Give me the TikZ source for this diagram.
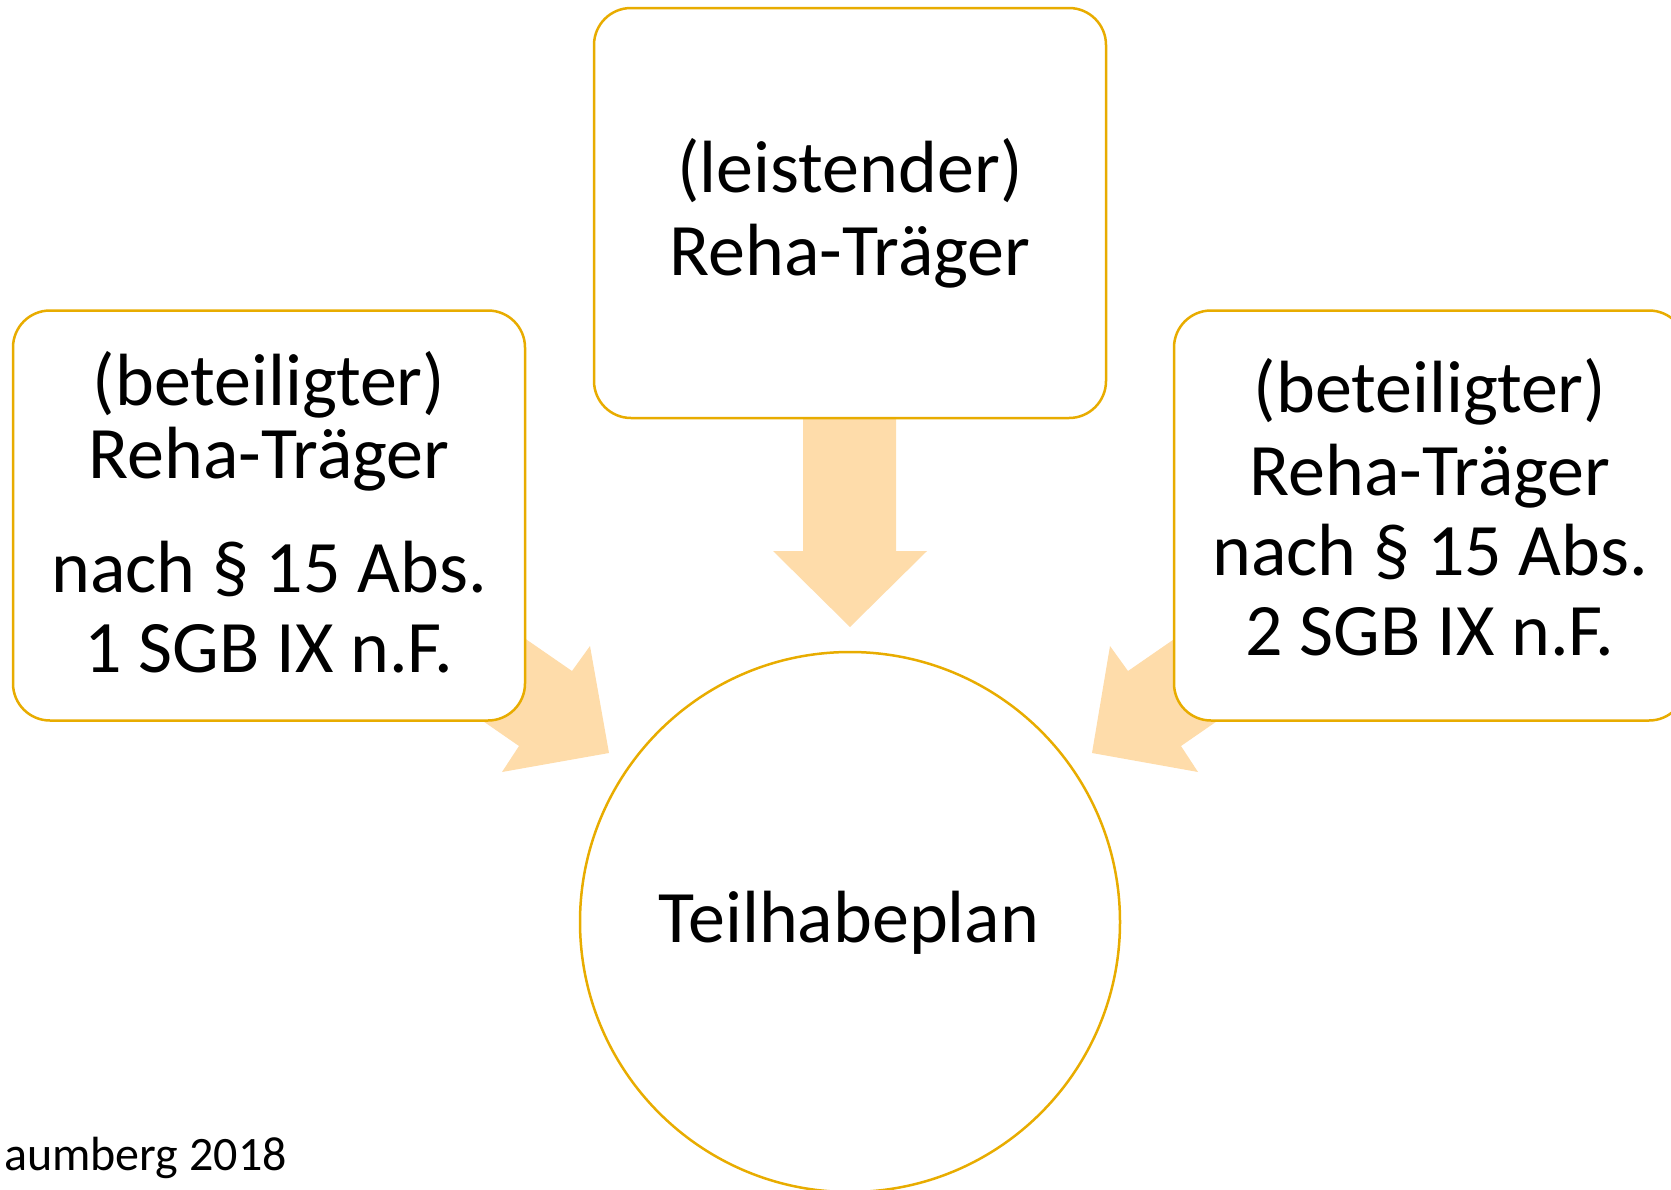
\documentclass[tikz,border=0pt]{standalone}
\usepackage{fontspec}
\setmainfont{Carlito}
\definecolor{boxgold}{RGB}{232,172,0}
\definecolor{arrowfill}{RGB}{254,220,170}
\begin{document}
\begin{tikzpicture}[x=1pt,y=-1pt,
  rbox/.style={draw=boxgold,line width=2.5pt,fill=white,rounded corners=37pt,
    minimum width=512pt,minimum height=410pt,inner sep=0pt},
  bigtxt/.style={anchor=base,inner sep=0pt,font=\fontsize{74}{86}\selectfont},
  arrowshape/.style={fill=arrowfill,draw=none}]
\useasboundingbox (0,0) rectangle (1671,1189);
% arrows (behind boxes)
\fill[arrowshape] (803,380) -- (896,380) -- (896,551) -- (927,551) -- (850,627) -- (773,551) -- (803,551) -- cycle;
\fill[arrowshape] (449,586) -- (572,671) -- (590,646) -- (609,753) -- (502,772) -- (519,746) -- (396,661) -- cycle;
\fill[arrowshape] (1251,586) -- (1128,671) -- (1110,646) -- (1092,753) -- (1198,772) -- (1181,746) -- (1304,661) -- cycle;
% boxes
\node[rbox] (top) at (850,213) {};
\node[rbox] (left) at (269,515.5) {};
\node[rbox] (right) at (1430,515.5) {};
\node[draw=boxgold,line width=2.5pt,circle,minimum size=540pt,inner sep=0pt] (plan) at (850,922) {};
% texts
\node[bigtxt] (t1) at (850,192) {(leistender)};
\node[bigtxt] (t2) at (850,275) {Reha-Träger};
\node[bigtxt] (l1) at (269,405) {(beteiligter)};
\node[bigtxt] (l2) at (269,478) {Reha-Träger};
\node[bigtxt] (l3) at (269,592) {nach § 15 Abs.};
\node[bigtxt] (l4) at (269,672) {1 SGB IX n.F.};
\node[bigtxt] (r1) at (1430,412) {(beteiligter)};
\node[bigtxt] (r2) at (1430,495) {Reha-Träger};
\node[bigtxt] (r3) at (1430,575) {nach § 15 Abs.};
\node[bigtxt] (r4) at (1430,655) {2 SGB IX n.F.};
\node[bigtxt] (pl) at (849,942) {Teilhabeplan};
\node[anchor=base west,inner sep=0pt,font=\fontsize{48}{56}\selectfont] (src) at (4,1170) {aumberg 2018};
\end{tikzpicture}
\end{document}
